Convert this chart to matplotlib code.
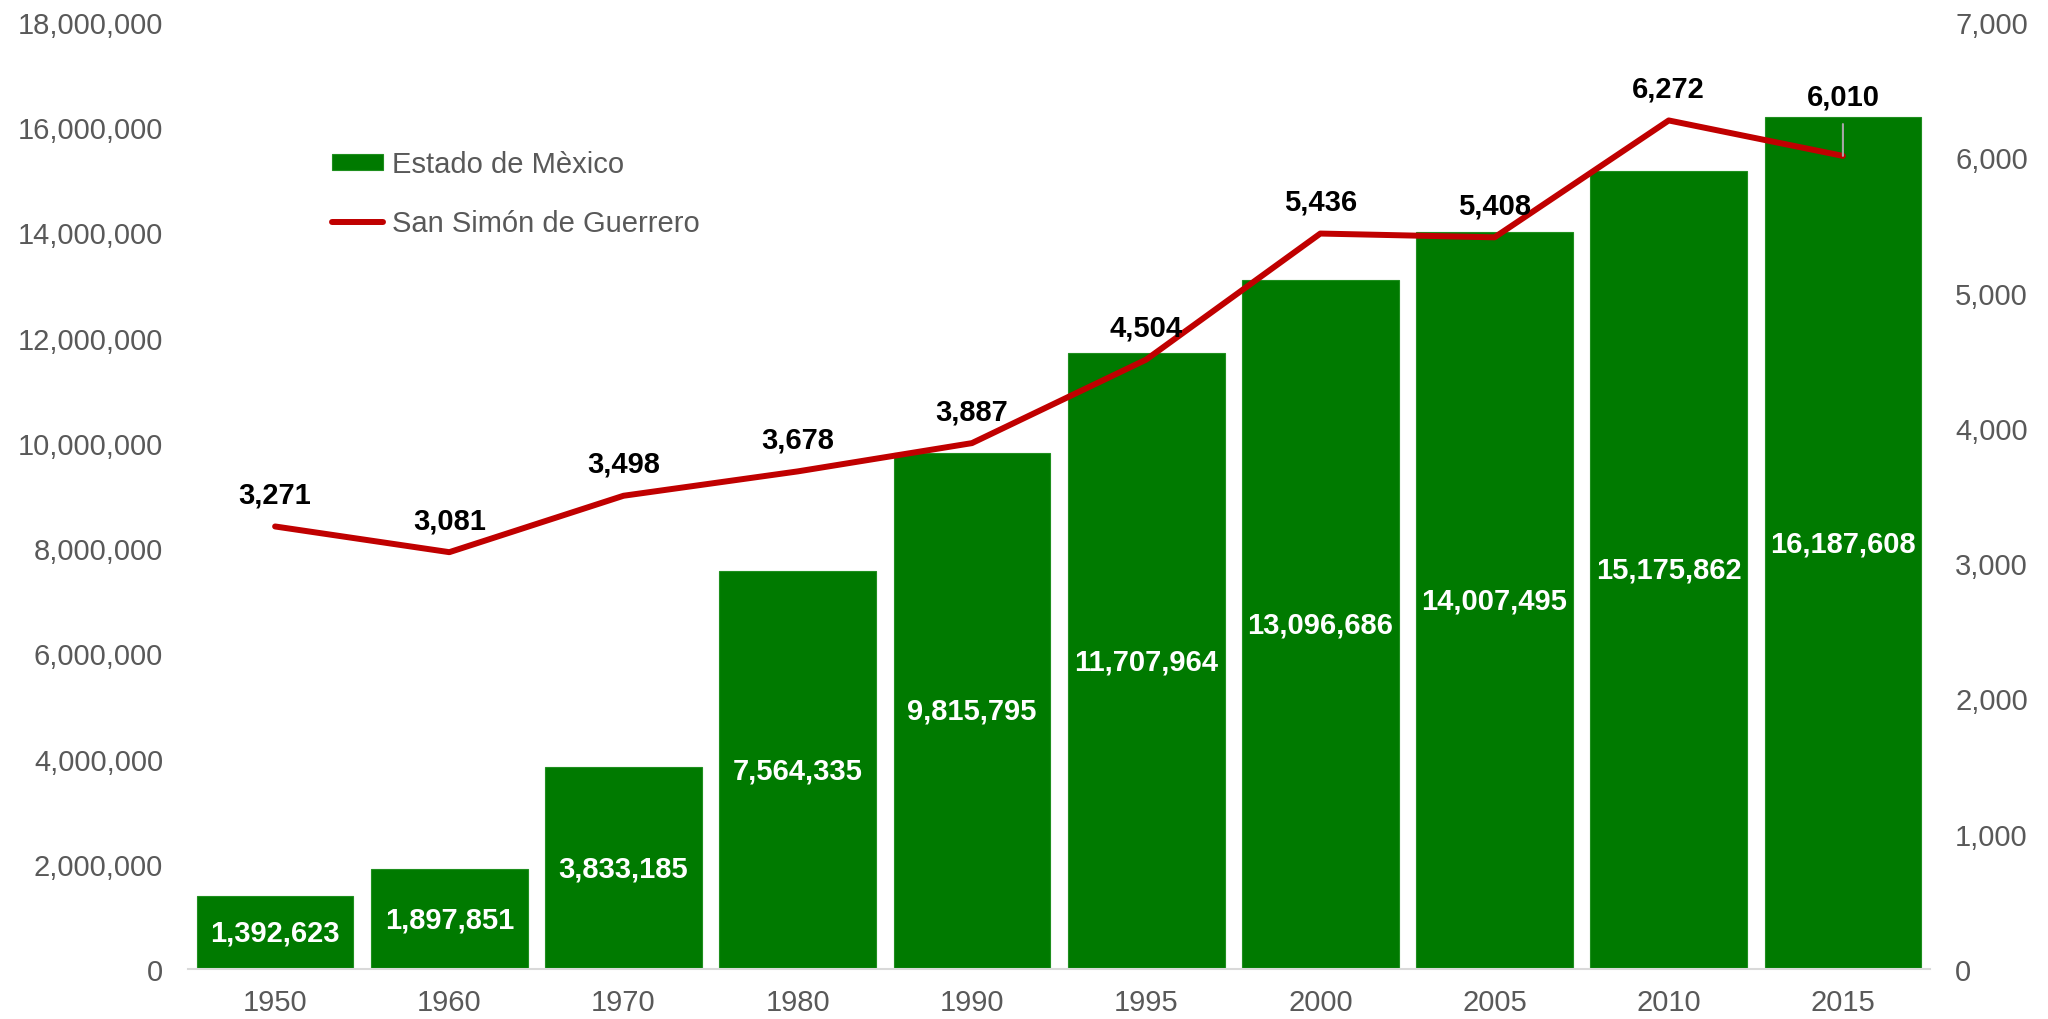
import matplotlib
matplotlib.use("Agg")
import matplotlib.pyplot as plt
from matplotlib.ticker import FuncFormatter

plt.rcParams['font.family'] = ['Liberation Sans', 'DejaVu Sans']

# datos
years = ['1950', '1960', '1970', '1980', '1990', '1995', '2000', '2005', '2010', '2015']
estado = [1392623, 1897851, 3833185, 7564335, 9815795, 11707964, 13096686, 14007495, 15175862, 16187608]
san_simon = [3271, 3081, 3498, 3678, 3887, 4504, 5436, 5408, 6272, 6010]

green = '#007A00'
red = '#C00000'
gray = '#595959'

fig = plt.figure(figsize=(20.48, 10.2), dpi=100)
ax = fig.add_axes([0.0918, 0.049, 0.8506, 0.9285])
ax2 = ax.twinx()

x = range(len(years))
bars = ax.bar(x, estado, width=0.9, color=green, edgecolor='#1f8f1f', linewidth=0.8,
              label='Estado de Mèxico', zorder=2)
line, = ax2.plot(x, san_simon, color=red, linewidth=4.3, solid_capstyle='round',
                 label='San Simón de Guerrero', zorder=3)

ax.set_xlim(-0.5, 9.5)
ax.set_ylim(0, 18000000)
ax.set_yticks(range(0, 18000001, 2000000))
ax2.set_ylim(0, 7000)
ax2.set_yticks(range(0, 7001, 1000))

fmt = FuncFormatter(lambda v, p: f'{int(v):,}')
ax.yaxis.set_major_formatter(fmt)
ax2.yaxis.set_major_formatter(fmt)
ax.set_xticks(list(x))
ax.set_xticklabels(years)

for a in (ax, ax2):
    for s in ['top', 'left', 'right', 'bottom']:
        a.spines[s].set_visible(False)
    a.tick_params(length=0, labelsize=21, labelcolor=gray)
ax.spines['bottom'].set_visible(True)
ax.spines['bottom'].set_color('#D9D9D9')
ax.spines['bottom'].set_linewidth(1.5)
ax.tick_params(axis='y', pad=18)
ax.tick_params(axis='x', pad=14)
ax2.tick_params(axis='y', pad=18)

# etiquetas de barras
for i, v in enumerate(estado):
    ax.text(i, v / 2, f'{v:,}', ha='center', va='center', color='white',
            fontsize=21, fontweight='bold', zorder=4)

# etiquetas de linea
for i, v in enumerate(san_simon):
    if i == len(san_simon) - 1:
        ax2.annotate(f'{v:,}', xy=(i, v), xytext=(0, 43), textcoords='offset points',
                     ha='center', va='center', fontsize=21, fontweight='bold',
                     arrowprops=dict(arrowstyle='-', color='#A6A6A6', lw=1.5,
                                     shrinkA=8, shrinkB=0), zorder=5)
    else:
        ax2.annotate(f'{v:,}', xy=(i, v), xytext=(0, 23), textcoords='offset points',
                     ha='center', va='center', fontsize=21, fontweight='bold', zorder=5)

leg = fig.legend(handles=[bars, line], loc='upper left',
                 bbox_to_anchor=(0.155, 0.866), frameon=False, fontsize=21,
                 handlelength=1.75, handleheight=0.5, handletextpad=0.3,
                 labelspacing=1.05, borderpad=0)
for t in leg.get_texts():
    t.set_color(gray)

fig.savefig('out.png', dpi=100)
